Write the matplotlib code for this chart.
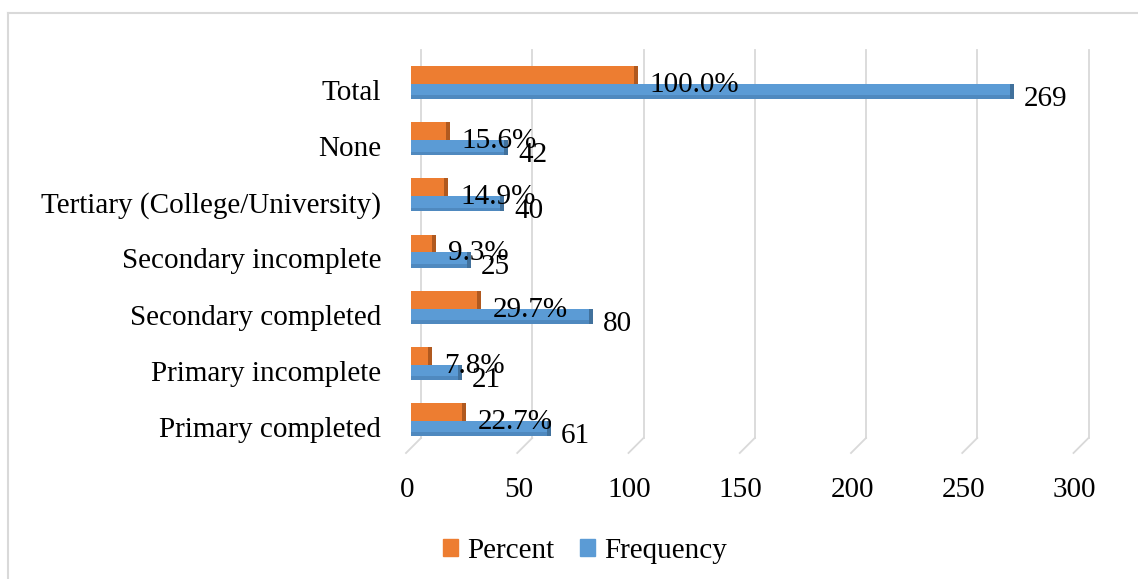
import matplotlib
matplotlib.use("Agg")
import matplotlib.pyplot as plt
import matplotlib.transforms as mtransforms
from matplotlib.lines import Line2D
from matplotlib.patches import Patch

categories = ["Primary completed", "Primary incomplete", "Secondary completed",
              "Secondary incomplete", "Tertiary (College/University)", "None", "Total"]
frequency = [61, 21, 80, 25, 40, 42, 269]
percent = [22.7, 7.8, 29.7, 9.3, 14.9, 15.6, 100.0]
xticks = [0, 50, 100, 150, 200, 250, 300]

ORANGE = "#ED7D31"
ORANGE_DARK = "#B0591F"
BLUE = "#5B9BD5"
BLUE_DARK = "#41719C"
GRID = "#D9D9D9"
FS = 21

plt.rcParams['font.family'] = ['Liberation Serif', 'DejaVu Serif']

W, H = 1138, 579
fig = plt.figure(figsize=(W / 100, H / 100), dpi=100)
# axes in pixel positions: x=0 at 411px, x=300 at ~1078px; y from 50px to 453px
ax = fig.add_axes([411 / W, (H - 453) / H, (1078.5 - 411) / W, 403 / H])
ax.set_xlim(0, 300)
ax.set_ylim(-0.463, 6.712)
for s in ax.spines.values():
    s.set_visible(False)

ypos = list(range(len(categories)))


def px(dx, dy=0):
    return mtransforms.ScaledTranslation(dx / 100, dy / 100, fig.dpi_scale_trans)


# slanted "3D" gridlines: back wall + short slant to the floor front
blend = mtransforms.blended_transform_factory(ax.transData, ax.transAxes)
y_back = 15 / 403
for v in xticks:
    ax.plot([v, v], [y_back, 1], color=GRID, lw=1.3, zorder=0,
            transform=blend + px(10), clip_on=False)
    ax.plot([v, v], [y_back, 0], color=GRID, lw=1.3, zorder=0,
            transform=blend, clip_on=False)
    ax.lines[-1].set_xdata([v + 10 / 2.225, v - 5 / 2.225])

# bars: percent (behind, upper) and frequency (front, lower)
p_off, p_h = 0.258, 0.338
f_off, f_h = -0.027, 0.27
py = [y + p_off for y in ypos]
fy = [y + f_off for y in ypos]
ax.barh(py, percent, height=p_h, color=ORANGE, zorder=2)
ax.barh(py, [1.8] * len(percent), left=percent, height=p_h, color=ORANGE_DARK, zorder=2)
ax.barh(fy, frequency, height=f_h, color=BLUE, zorder=3)
ax.barh([y - f_h * 0.38 for y in fy], frequency, height=f_h * 0.24,
        color="#4F89BF", zorder=3)
ax.barh(fy, [1.8] * len(frequency), left=frequency, height=f_h, color=BLUE_DARK, zorder=3)

for y, p, f in zip(ypos, percent, frequency):
    ax.annotate(f"{p:.1f}%", (p, y), xytext=(16, 5), textcoords='offset pixels',
                ha='left', va='center', fontsize=FS, zorder=5)
    ax.annotate(f"{f}", (f, y), xytext=(14, -9), textcoords='offset pixels',
                ha='left', va='center', fontsize=FS, zorder=5)

ax.set_yticks(ypos)
ax.set_yticklabels(categories, fontsize=FS)
ax.set_xticks(xticks)
ax.set_xticklabels([str(t) for t in xticks], fontsize=FS)
ax.tick_params(axis='y', length=0, pad=21.4)
ax.tick_params(axis='x', length=0, pad=17)
for lbl in ax.get_xticklabels():
    lbl.set_transform(lbl.get_transform() + px(-4))
ax.grid(False)

# legend
handles = [Patch(color=ORANGE, label="Percent"), Patch(color=BLUE, label="Frequency")]
fig.legend(handles=handles, loc='center', bbox_to_anchor=(585 / W, 1 - 551 / H),
           ncol=2, frameon=False, fontsize=FS, handlelength=0.52, handleheight=0.52,
           handletextpad=0.3, columnspacing=0.9)

# chart border
fig.add_artist(Line2D([8 / W, 8 / W], [0, 1 - 13 / H], color=GRID, lw=1.5,
                      transform=fig.transFigure))
fig.add_artist(Line2D([8 / W, 1], [1 - 13 / H, 1 - 13 / H], color=GRID, lw=1.5,
                      transform=fig.transFigure))

fig.savefig("out.png", dpi=100)
